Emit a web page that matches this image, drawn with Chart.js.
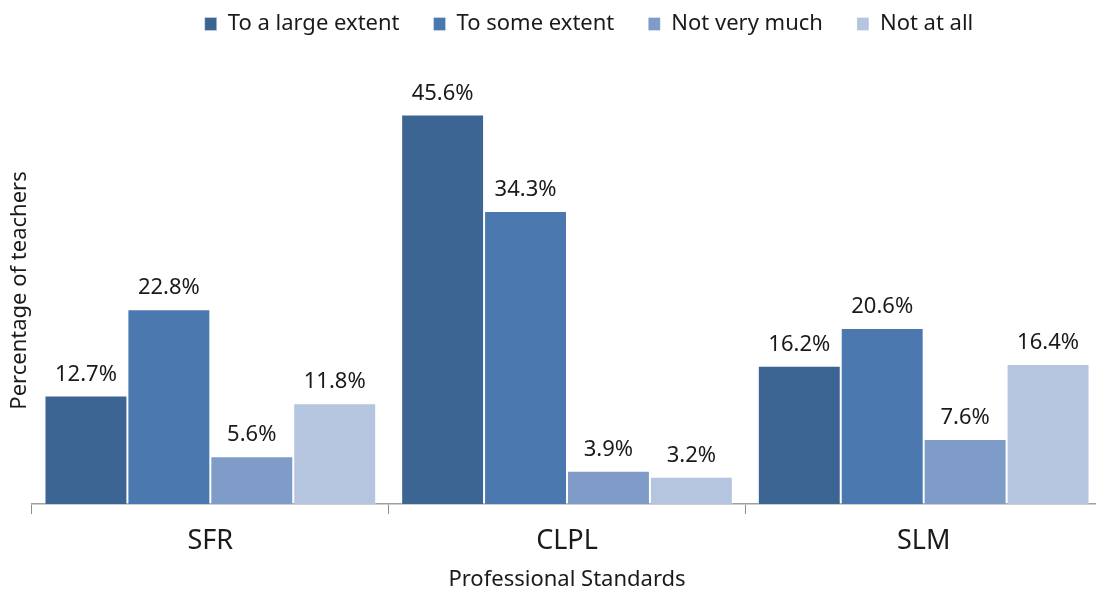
<!DOCTYPE html>
<html>
<head>
<meta charset="utf-8">
<script src="https://cdn.jsdelivr.net/npm/chart.js@4"></script>
<style>
  html, body { margin: 0; padding: 0; background: #fff; overflow: hidden; }
  #wrap { position: relative; width: 1102px; height: 594px; }
</style>
</head>
<body>
<div id="wrap"><canvas id="c"></canvas></div>
<script>
const categories = ['SFR', 'CLPL', 'SLM'];
const seriesNames = ['To a large extent', 'To some extent', 'Not very much', 'Not at all'];
const largeExtent = [12.7, 45.6, 16.2];
const someExtent = [22.8, 34.3, 20.6];
const notVeryMuch = [5.6, 3.9, 7.6];
const notAtAll = [11.8, 3.2, 16.4];
const colors = ['#3D6594', '#4A78AF', '#7E9CC7', '#B5C4DF'];

const FONT = '"Noto Sans", "Open Sans", sans-serif';

const valueLabels = {
  id: 'valueLabels',
  afterDatasetsDraw(chart) {
    const ctx = chart.ctx;
    ctx.save();
    ctx.font = '22px ' + FONT;
    ctx.fillStyle = '#1a1a1a';
    ctx.textAlign = 'center';
    ctx.textBaseline = 'alphabetic';
    chart.data.datasets.forEach((ds, i) => {
      const meta = chart.getDatasetMeta(i);
      meta.data.forEach((bar, j) => {
        ctx.fillText(ds.data[j].toFixed(1) + '%', bar.x, bar.y - 15);
      });
    });
    ctx.restore();
  }
};

const legendShift = {
  id: 'legendShift',
  afterLayout(chart) {
    const lg = chart.legend;
    if (!lg) return;
    const dx = 38;
    const h = lg.bottom - lg.top;
    lg.left += dx; lg.right += dx;
    lg.top = -21; lg.bottom = lg.top + h;
  }
};

new Chart(document.getElementById('c'), {
  type: 'bar',
  data: {
    labels: categories,
    datasets: [
      { label: seriesNames[0], data: largeExtent, backgroundColor: colors[0] },
      { label: seriesNames[1], data: someExtent, backgroundColor: colors[1] },
      { label: seriesNames[2], data: notVeryMuch, backgroundColor: colors[2] },
      { label: seriesNames[3], data: notAtAll, backgroundColor: colors[3] }
    ].map(d => Object.assign(d, {
      borderColor: 'rgba(255,255,255,0.3)',
      borderWidth: 1,
      barPercentage: 1.0,
      categoryPercentage: 0.93
    }))
  },
  options: {
    responsive: true,
    maintainAspectRatio: false,
    animation: false,
    devicePixelRatio: 1,
    layout: { padding: { top: 11, left: 0, right: 0, bottom: 0 } },
    plugins: {
      legend: {
        position: 'top',
        labels: {
          font: { family: FONT, size: 22 },
          color: '#1a1a1a',
          boxWidth: 12,
          boxHeight: 13,
          padding: 34
        }
      },
      tooltip: { enabled: false }
    },
    scales: {
      x: {
        afterFit(scale) { scale.height = 90; },
        grid: {
          display: true,
          drawOnChartArea: false,
          drawTicks: true,
          tickLength: 10,
          color: '#8c8c8c',
          offset: true
        },
        border: { display: true, color: '#a0a0a0', width: 1.5 },
        ticks: {
          font: { family: FONT, size: 27 },
          color: '#1a1a1a',
          padding: 11
        },
        title: {
          display: true,
          text: 'Professional Standards',
          font: { family: FONT, size: 22 },
          color: '#1a1a1a',
          padding: { top: 0, bottom: 1 }
        }
      },
      y: {
        min: 0,
        max: 50,
        afterFit(scale) { scale.width = 32; },
        grid: { display: false },
        border: { display: false },
        ticks: { display: false },
        title: {
          display: true,
          text: 'Percentage of teachers',
          font: { family: FONT, size: 22 },
          color: '#1a1a1a',
          padding: { top: 7, bottom: 0 }
        }
      }
    }
  },
  plugins: [valueLabels, legendShift]
});
</script>
</body>
</html>
